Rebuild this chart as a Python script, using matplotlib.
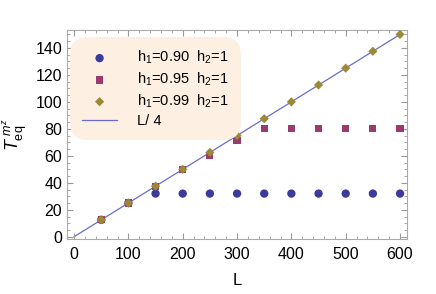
import numpy as np
import matplotlib
matplotlib.use('Agg')
import matplotlib.pyplot as plt
from matplotlib.ticker import MultipleLocator

plt.rcParams['font.family'] = ['Liberation Sans', 'DejaVu Sans']
plt.rcParams['mathtext.fontset'] = 'custom'
plt.rcParams['mathtext.rm'] = 'Liberation Sans'
plt.rcParams['mathtext.it'] = 'Liberation Sans:italic'

# data
L = [50, 100, 150, 200, 250, 300, 350, 400, 450, 500, 550, 600]
t_090 = [12.5, 25, 32, 32, 32, 32, 32, 32, 32, 32, 32, 32]
t_095 = [12.5, 25, 37.5, 50, 60.5, 71.5, 80, 80, 80, 80, 80, 80]
t_099 = [12.5, 25, 37.5, 50, 62.5, 75, 87.5, 100, 112.5, 125, 137.5, 150]
line_x = [0, 600]

fig = plt.figure(figsize=(4.36, 2.94), dpi=100)
ax = fig.add_axes([0.1537, 0.187, 0.78, 0.711])

ax.plot(line_x, [v / 4 for v in line_x], color='#6b6bcc', lw=0.9, label='L/ 4', zorder=1)
ax.scatter(L, t_090, marker='o', s=36, color='#3b3b9c', edgecolors='none', label='h$_1$=0.90  h$_2$=1', zorder=2)
ax.scatter(L, t_095, marker='s', s=27, color='#9b3a6c', edgecolors='none', label='h$_1$=0.95  h$_2$=1', zorder=3)
ax.scatter(L, t_099, marker='D', s=22, color='#9a8a35', edgecolors='none', label='h$_1$=0.99  h$_2$=1', zorder=4)

ax.set_xlim(-13, 613)
ax.set_ylim(-1.7, 153.3)
ax.xaxis.set_major_locator(MultipleLocator(100))
ax.xaxis.set_minor_locator(MultipleLocator(20))
ax.yaxis.set_major_locator(MultipleLocator(20))
ax.yaxis.set_minor_locator(MultipleLocator(5))
ax.tick_params(which='both', direction='in', top=True, right=True, color='#999999', labelsize=11.5)
ax.tick_params(which='major', length=4)
ax.tick_params(which='minor', length=2)
ax.tick_params(axis='x', pad=6)
for s in ax.spines.values():
    s.set_color('#aaaaaa')

ax.set_xlabel('L', fontsize=12, labelpad=8)
ax.set_ylabel(r'$T_{\mathrm{eq}}^{\ m^z}$', fontsize=13, labelpad=4)

handles, labels = ax.get_legend_handles_labels()
order = [1, 2, 3, 0]
leg = ax.legend([handles[i] for i in order], [labels[i] for i in order],
                loc='upper left', bbox_to_anchor=(0.01, 0.965), fontsize=10.5,
                frameon=True, fancybox=True, facecolor='#fdf0e3', edgecolor='none',
                framealpha=1, handlelength=2.4, handletextpad=1.4, labelspacing=0.3,
                borderpad=0.8, borderaxespad=0)
leg.get_frame().set_boxstyle('round', pad=0, rounding_size=1.2)

fig.savefig('out.png', dpi=100)
